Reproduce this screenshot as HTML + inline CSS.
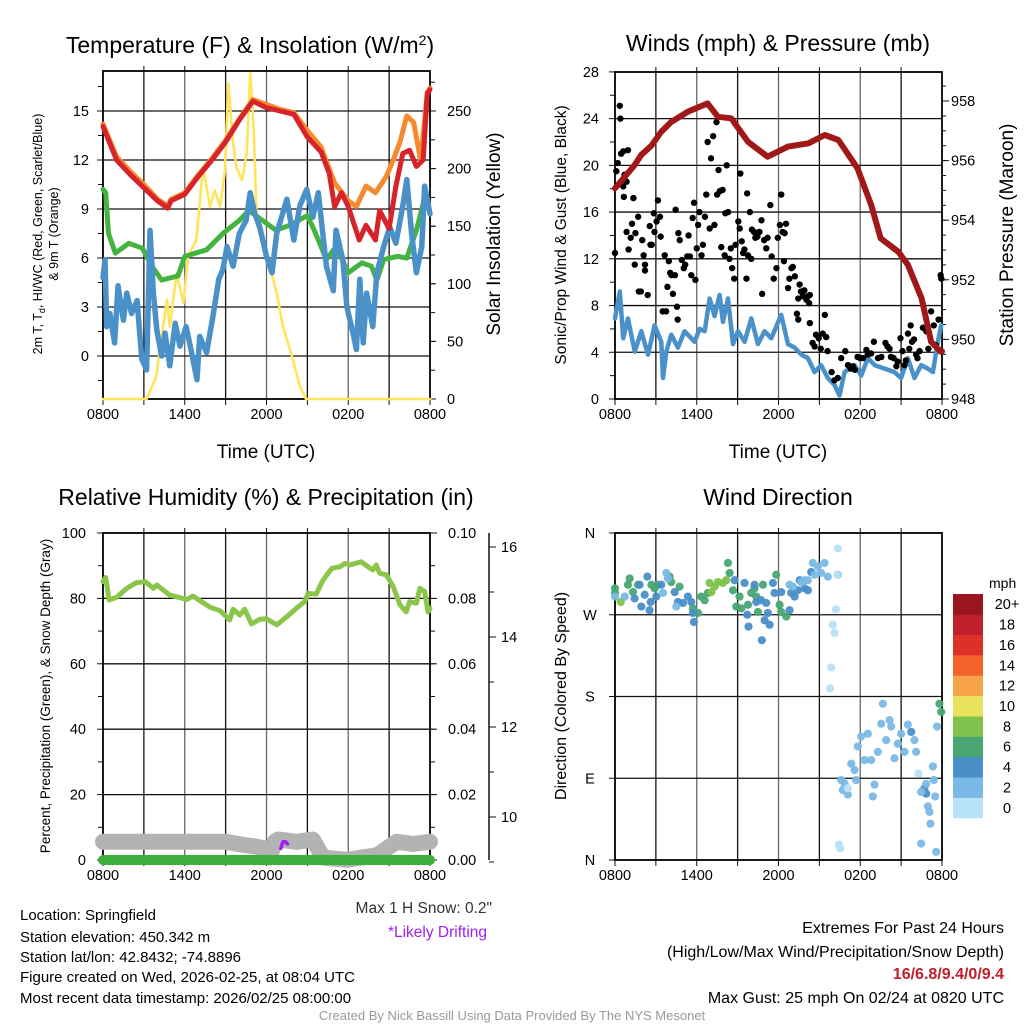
<!DOCTYPE html>
<html><head><meta charset="utf-8">
<style>
html,body{margin:0;padding:0;background:#fff;}
svg{display:block;font-family:"Liberation Sans",Arial,sans-serif;}
</style></head>
<body>
<svg id="fig" width="1024" height="1024" viewBox="0 0 1024 1024" xmlns="http://www.w3.org/2000/svg">
<rect width="1024" height="1024" fill="#fff"/>
<text x="250" y="53" font-size="23" text-anchor="middle">Temperature (F) &amp; Insolation (W/m<tspan dy="-8" font-size="14">2</tspan><tspan dy="8">)</tspan></text>
<text x="778" y="51" font-size="23" text-anchor="middle">Winds (mph) &amp; Pressure (mb)</text>
<text x="266" y="505" font-size="23" text-anchor="middle">Relative Humidity (%) &amp; Precipitation (in)</text>
<text x="778" y="505" font-size="23" text-anchor="middle">Wind Direction</text>

<text transform="translate(42,234) rotate(-90)" font-size="12.5" text-anchor="middle">2m T, T<tspan font-size="9" dy="3">d</tspan><tspan dy="-3">, HI/WC (Red, Green, Scarlet/Blue)</tspan></text>
<text transform="translate(58,234) rotate(-90)" font-size="12.5" text-anchor="middle">&amp; 9m T (Orange)</text>
<text transform="translate(500,234) rotate(-90)" font-size="19" text-anchor="middle">Solar Insolation (Yellow)</text>
<text x="266" y="458" font-size="19" text-anchor="middle">Time (UTC)</text>
<text transform="translate(566,235) rotate(-90)" font-size="15.5" text-anchor="middle">Sonic/Prop Wind &amp; Gust (Blue, Black)</text>
<text transform="translate(1013,235) rotate(-90)" font-size="19" text-anchor="middle">Station Pressure (Maroon)</text>
<text x="778" y="458" font-size="19" text-anchor="middle">Time (UTC)</text>
<text transform="translate(50,696) rotate(-90)" font-size="13.5" text-anchor="middle">Percent, Precipitation (Green), &amp; Snow Depth (Gray)</text>
<text transform="translate(566,696) rotate(-90)" font-size="16" text-anchor="middle">Direction (Colored By Speed)</text>

<g font-size="15">
<text x="20" y="920">Location: Springfield</text>
<text x="20" y="942">Station elevation: 450.342 m</text>
<text x="20" y="962">Station lat/lon: 42.8432; -74.8896</text>
<text x="20" y="982">Figure created on Wed, 2026-02-25, at 08:04 UTC</text>
<text x="20" y="1003">Most recent data timestamp: 2026/02/25 08:00:00</text>
</g>
<text x="492" y="913" font-size="15.5" fill="#333" text-anchor="end">Max 1 H Snow: 0.2"</text>
<text x="487" y="937" font-size="15.5" fill="#a020f0" text-anchor="end">*Likely Drifting</text>
<g font-size="16" text-anchor="end">
<text x="1004" y="933">Extremes For Past 24 Hours</text>
<text x="1004" y="957">(High/Low/Max Wind/Precipitation/Snow Depth)</text>
<text x="1004" y="979" font-weight="bold" fill="#c0202a">16/6.8/9.4/0/9.4</text>
<text x="1004" y="1003">Max Gust: 25 mph On 02/24 at 0820 UTC</text>
</g>
<text x="512" y="1020" font-size="13" fill="#999" text-anchor="middle">Created By Nick Bassill Using Data Provided By The NYS Mesonet</text>
</svg>
<script>
// ---------- Panel 1 data ----------
var redT=[0,1,2,3,4,4.75,5,6,7,8,9,10,11,12,13,14,15,16,16.6,17,17.5,18,18.8,19.3,20,20.3,21,21.5,22,22.5,23,23.5,23.8,24];
var redV=[14.05,12.0,11.1,10.3,9.5,9.05,9.5,9.9,11.0,12.0,13.1,14.45,15.6,15.2,15.0,14.8,13.4,12.5,11.2,9.15,10.0,9.15,7.1,8.0,7.1,8.9,7.8,10.4,12.4,12.6,11.6,12.0,16.1,16.3];
var orangeT=[0,1,2,3,4,4.75,5,6,7,8,9,10,11,12,13,14,15,16,17,18,18.6,19.3,20,20.8,21.3,21.8,22.3,22.8,23.3,23.8,24];
var orangeV=[14.2,12.2,11.3,10.5,9.6,9.2,9.6,10.0,11.1,12.1,13.2,14.5,15.7,15.4,15.1,14.9,13.8,12.8,10.6,9.5,9.15,10.4,10.0,11.0,12.0,13.1,14.7,14.3,12.0,16.1,16.4];
var greenT=[0,0.2,0.4,0.9,1.9,2.9,3.5,4.3,5.5,6.0,7.6,8.8,10.0,10.7,11.7,12.7,13.7,15.0,15.5,16.4,17.1,18.0,19.0,19.7,20.1,20.6,21.6,22.3,23.0,23.7];
var greenV=[10.2,10.0,7.5,6.3,6.9,6.6,5.6,4.65,4.9,6.1,6.5,7.5,8.3,8.9,8.3,7.7,8.0,8.6,7.7,5.9,6.7,5.1,5.7,5.5,4.65,5.9,6.1,6.0,7.7,10.0];
var blueT=[0,0.15,0.27,0.5,0.85,1.1,1.5,1.75,2.1,2.5,2.85,3.2,3.45,3.7,3.95,4.3,4.55,4.9,5.3,5.65,6.1,6.5,6.9,7.1,7.6,8.1,8.5,8.8,9.1,9.55,10.0,10.5,10.8,11.15,11.5,12.0,12.4,12.75,13.5,14.0,14.45,14.95,15.4,15.8,16.4,16.9,17.1,17.6,17.9,18.4,18.6,18.85,19.1,19.35,19.8,20.1,20.6,21.05,21.5,22.0,22.3,22.65,23.0,23.4,23.6,24];
var blueV=[4.8,5.9,1.8,2.6,0.8,4.3,2.2,3.85,2.6,3.4,-0.2,-0.85,7.7,3.85,1.6,0.0,1.4,-0.6,2.0,0.6,1.8,0.2,-1.45,1.2,0.2,2.6,4.7,5.3,6.7,5.5,7.5,8.3,10.0,8.7,7.9,6.1,5.1,7.5,9.6,7.1,9.2,10.2,8.5,10.0,5.5,4.0,7.7,5.9,3.0,1.2,0.4,4.7,0.8,3.85,1.8,5.1,6.7,7.9,6.9,9.2,10.8,7.5,5.1,6.7,10.4,8.7];
var solarT=[0,3.2,3.9,4.3,4.7,4.9,5.4,5.9,6.25,6.85,7.35,7.85,8.2,8.6,8.95,9.2,9.55,9.8,10.2,10.55,10.8,11.05,11.3,11.8,12.25,12.75,13.2,13.8,14.45,14.9,24];
var solarV=[0,0,19,54,86,63,109,83,124,138,201,167,181,167,198,274,222,201,190,213,283,236,150,138,115,92,63,40,11,0,0];
var p1LeftTicks=[0,3,6,9,12,15];
var p1RightTicks=[0,50,100,150,200,250];
// ---------- Panel 2 data ----------
var pressT=[0,1.44,1.93,2.67,3.4,4.13,5.35,6.8,7.55,8.53,9.76,11.2,12.7,14.2,15.4,16.4,17.8,18.8,19.5,20.8,21.5,22.5,23.2,23.9,24];
var pressV=[955.07,955.85,956.19,956.5,956.97,957.3,957.64,957.92,957.47,957.42,956.63,956.13,956.47,956.58,956.86,956.69,955.74,954.51,953.39,952.94,952.5,951.38,949.92,949.59,949.6];
var windT=[0,0.35,0.6,0.95,1.45,1.93,2.42,2.91,3.4,3.52,3.77,4.13,4.62,5.11,5.84,6.21,6.58,6.94,7.31,7.68,7.92,8.29,8.66,9.02,9.51,10.0,10.49,10.98,11.47,12.2,12.7,13.18,13.67,14.16,14.65,15.13,15.62,16.11,16.48,16.85,17.58,18.07,18.56,19.05,19.78,20.51,21.0,21.49,21.98,22.47,22.96,23.33,23.69,23.94];
var windV=[6.9,9.2,5.2,6.9,4.05,5.8,3.8,6.3,4.9,1.8,4.1,5.5,4.4,5.8,4.9,6.0,5.8,8.6,7.1,8.9,6.6,8.6,4.7,5.8,4.9,6.9,4.7,5.8,5.2,7.2,4.7,4.4,3.8,3.5,2.3,2.9,1.8,1.2,0.3,2.3,2.9,2.0,3.5,2.9,2.6,2.3,1.8,3.5,1.8,2.9,2.6,2.3,4.9,6.3];
var gustT=[0.1,0.2,0.35,0.4,0.45,0.6,0.7,0.85,0.95,0.6,0.65,0.0,0.85,1.0,1.15,1.25,1.35,1.5,1.45,1.7,1.75,1.9,2.0,2.1,2.2,2.2,2.4,2.55,2.6,2.7,2.85,2.9,3.05,3.15,3.3,3.35,3.5,3.65,3.75,3.85,3.95,4.05,4.15,4.25,4.4,4.45,4.55,4.6,4.65,4.75,4.9,5.05,5.15,5.3,5.4,5.5,5.6,5.7,5.8,5.9,6.0,6.1,6.2,6.35,6.45,6.6,6.7,6.8,6.95,7.05,7.2,7.3,7.45,7.5,7.6,7.7,7.8,7.9,8.05,8.1,8.2,8.3,8.4,8.5,8.6,8.75,8.85,9.05,9.15,9.2,9.3,9.4,9.5,9.65,9.7,9.75,9.9,10.0,10.05,10.2,10.3,10.45,10.6,10.75,10.8,10.95,11.1,11.2,11.4,11.5,11.65,11.85,11.95,12.1,12.2,12.3,12.45,12.55,12.4,12.7,12.8,12.95,13.05,13.2,13.35,13.45,13.55,13.65,13.8,13.9,14.05,14.15,14.25,14.3,13.45,14.3,14.5,14.65,14.75,14.95,15.1,15.25,15.4,15.5,15.6,15.9,16.1,16.35,16.6,16.9,17.1,17.3,17.45,17.6,17.8,18.0,18.2,18.45,18.55,18.8,19.0,19.3,19.55,19.85,20.0,20.15,20.25,20.45,20.65,20.75,20.95,21.1,21.25,21.35,21.5,21.6,21.7,21.8,21.95,22.1,22.2,22.35,22.6,22.85,23.0,23.2,23.4,23.55,23.75,23.9,23.95];
var gustV=[19.5,20.2,25.1,24.0,21.0,21.2,19.2,18.6,21.3,18.2,17.3,12.5,14.3,12.8,13.8,15.0,17.2,14.2,11.5,15.6,9.2,9.2,13.6,12.3,11.5,11.0,8.9,14.8,13.2,13.2,15.9,14.3,15.2,17.0,15.6,13.9,7.5,12.3,7.5,9.6,11.8,10.8,10.6,9.0,10.6,16.2,7.9,6.8,14.2,13.6,11.9,11.2,11.5,12.2,14.0,12.2,10.6,15.5,16.8,10.2,12.9,14.9,16.0,12.3,13.2,15.6,17.5,22.0,14.6,20.6,22.5,14.9,23.7,17.5,19.6,17.8,13.0,17.9,12.3,15.9,20.0,16.0,12.0,12.9,11.2,10.3,13.2,15.2,14.6,19.3,13.5,12.5,12.8,10.3,17.6,12.3,16.0,12.0,14.5,14.3,13.8,13.9,14.3,15.3,9.0,13.6,12.9,13.8,16.6,12.2,10.3,11.2,13.8,14.9,17.5,14.3,14.2,15.0,11.8,9.5,10.3,11.2,11.3,10.5,7.3,8.6,9.8,9.2,8.8,9.3,8.5,8.8,8.2,8.9,6.8,6.5,4.8,4.5,5.5,5.2,4.3,5.6,7.2,5.3,4.1,2.3,1.6,1.8,3.5,4.1,2.9,2.6,2.8,2.5,3.6,3.5,3.5,4.2,3.8,3.9,4.9,3.5,3.6,4.8,4.5,4.3,3.6,3.5,2.8,3.2,5.2,4.1,2.9,3.3,5.6,4.3,6.3,4.9,5.1,3.8,3.5,4.1,6.1,5.8,4.3,7.5,6.3,4.6,6.8,10.6,10.3];
var p2LeftTicks=[0,4,8,12,16,20,24,28];
var p2RightTicks=[948,950,952,954,956,958];
// ---------- Panel 3 data ----------
var rhT=[0,0.2,0.45,1.0,1.75,2.45,3.1,3.7,3.95,4.9,6.15,6.6,7.85,8.6,9.3,9.55,10.05,10.4,10.9,11.5,12.0,12.75,13.5,14.2,14.8,15.05,15.65,16.15,16.8,17.4,17.75,18.1,18.95,19.45,19.8,20.05,20.3,20.8,21.3,21.8,22.25,22.5,23.0,23.25,23.6,23.85,24];
var rhV=[85.1,86.4,79.5,80.3,83.1,84.8,85.1,83.1,84.1,81.0,79.7,80.7,77.3,76.2,73.4,76.7,74.9,76.7,72.2,73.6,73.8,71.9,74.4,77.0,79.0,81.5,81.3,85.6,89.2,89.7,90.7,90.2,91.2,89.7,88.7,90.2,87.7,87.2,83.6,78.0,75.9,79.0,78.5,83.1,82.1,75.9,77.0];
var snowT=[0,5,9,10.3,11.3,11.9,12.25,12.6,12.85,14.2,15.4,16.15,17.9,20.1,21.55,22.75,24];
var snowV=[9.45,9.45,9.45,9.38,9.34,9.3,9.1,9.45,9.5,9.45,9.5,9.1,9.05,9.15,9.45,9.4,9.45];
var driftT=[13.05,13.2,13.4,13.55];
var driftV=[9.3,9.45,9.45,9.4];
var precipT=[0,24];
var precipV=[0,0];
var p3LeftTicks=[0,20,40,60,80,100];
var p3RightTicks=[0,0.02,0.04,0.06,0.08,0.10];
var p3SnowTicks=[10,12,14,16];
// ---------- Panel 4 data ----------
var dirT=[0,0,1.08,0.95,1.32,1.69,2.67,2.91,3.15,4.01,4.13,4.74,5.72,6.09,6.33,6.58,6.82,8.29,8.41,8.66,8.9,9.14,9.27,9.76,10.0,10.24,10.37,10.49,10.86,11.83,12.08,12.2,12.57,23.81,23.94,
0.42,6.94,7.31,7.55,7.92,8.17,7.07,
1.44,1.81,1.93,2.18,2.37,2.54,2.62,3.03,3.4,4.38,4.62,4.99,5.35,5.6,5.79,5.72,8.78,9.51,9.71,9.8,10.24,10.37,10.73,10.78,10.98,11.22,11.35,11.1,11.59,11.71,12.2,12.81,12.93,13.18,13.42,13.55,13.91,14.16,14.4,21.74,22.71,22.84,
0,0.71,3.52,3.77,3.89,4.5,13.91,14.52,14.89,15.38,15.62,14.65,15.13,16.36,12.81,13.67,14.16,13.06,16.6,16.72,17.09,17.34,17.7,17.82,18.07,18.31,18.56,18.8,19.05,18.92,19.29,19.54,19.66,19.9,20.15,20.27,20.51,20.76,21.0,21.25,21.49,21.98,22.1,22.47,22.84,22.96,23.08,23.15,23.33,23.4,23.5,23.64,23.57,22.47,16.85,17.58,
16.36,16.31,16.21,15.99,16.11,15.87,15.79,16.43,16.53,22.27,17.09];
var dirV=[299,294,310,303,295,303,303,299,303,312,306,301,277,272,290,286,294,327,316,297,279,290,277,281,294,299,290,273,303,314,281,273,268,172,163,
284,305,301,306,305,308,295,
288,303,279,292,312,275,284,290,303,295,284,283,290,284,262,272,308,305,270,257,303,284,286,242,264,272,259,283,305,294,295,275,294,290,297,308,299,297,317,141,79,73,
290,290,294,316,310,279,308,327,323,327,312,314,316,314,303,306,308,301,88,77,72,106,88,125,136,110,139,110,83,70,119,150,172,132,154,147,112,128,139,119,149,132,119,75,84,59,53,40,103,88,70,147,9,18,84,99,
343,314,276,259,250,212,189,17,13,95,79];
var dirSpeed=[7,7,7,7,7,7,7,7,7,7,7,7,7,7,7,7,7,7,7,7,7,7,7,7,7,7,7,7,7,7,7,7,7,7,7,
9,9,9,9,9,9,9,
5,5,5,5,5,5,5,5,5,5,5,5,5,5,5,5,5,5,5,5,5,5,5,5,5,5,5,5,5,5,5,5,5,5,5,5,5,5,5,5,5,5,
3,3,3,3,3,3,3,3,3,3,3,3,3,3,3,3,3,3,3,3,3,3,3,3,3,3,3,3,3,3,3,3,3,3,3,3,3,3,3,3,3,3,3,3,3,3,3,3,3,3,3,3,3,3,3,3,
1,1,1,1,1,1,1,1,1,1,1];
var dirTickLabels=["N","E","S","W","N"];
var dirTickValues=[0,90,180,270,360];
var speedBinLabels=["0","2","4","6","8","10","12","14","16","18","20+"];
var speedBinColors=["#b7e2f7","#7ab9e5","#4a8fc7","#49a673","#80c24c","#e8e35a","#f8a448","#f2622b","#dd3128","#c0202a","#9b161c"];
var timeTickLabels=["0800","1400","2000","0200","0800"];

// ---------- helpers ----------
var SVGNS="http://www.w3.org/2000/svg";
var fig=document.getElementById("fig");
function el(tag,attrs,parent){var e=document.createElementNS(SVGNS,tag);for(var k in attrs){e.setAttribute(k,attrs[k]);}(parent||fig).appendChild(e);return e;}
function lin(d0,d1,r0,r1){return function(v){return r0+(v-d0)*(r1-r0)/(d1-d0);};}
function pts(ts,vs,sx,sy){var a=[];for(var i=0;i<ts.length;i++){a.push(sx(ts[i]).toFixed(1)+","+sy(vs[i]).toFixed(1));}return a.join(" ");}

function frame(P,name){
  var g=el("g",{});
  
  
  for(var h=3;h<24;h+=3){
    var x=P.sx(h);
    var gl=el("line",{x1:x,x2:x,y1:P.y0,y2:P.y1,stroke:(h%6==0?"#666":"#111"),"stroke-width":1.3},g);
    
    
    var tt=el("line",{x1:x,x2:x,y1:P.y0,y2:P.y0-5,stroke:"#111","stroke-width":1},g);
    
    
  }
  for(var h2=0;h2<=24;h2+=3){
    var xb=P.sx(h2);
    var bt=el("line",{x1:xb,x2:xb,y1:P.y1,y2:P.y1+6,stroke:"#111","stroke-width":1},g);
    
    
  }
  for(var i=0;i<timeTickLabels.length;i++){
    var tl=el("text",{x:P.sx(i*6),y:P.y1+20,"font-size":14.5,"text-anchor":"middle"},g);
    tl.textContent=timeTickLabels[i];
    
    
  }
  return g;
}
function hgrid(P,g,ys,col){
  for(var i=0;i<ys.length;i++){
    var hl=el("line",{x1:P.x0,x2:P.x1,y1:ys[i],y2:ys[i],stroke:col||"#111","stroke-width":1.3},g);
    
    
  }
}
function border(P,g){
  var r=el("rect",{x:P.x0,y:P.y0,width:P.x1-P.x0,height:P.y1-P.y0,fill:"none",stroke:"#000","stroke-width":1.8},g);
  
  
}
function ticks(g,x,vals,sy,side,fmt,len,lblx){
  for(var i=0;i<vals.length;i++){
    var y=sy(vals[i]);
    var t=el("line",{x1:x,x2:x+side*len,y1:y,y2:y,stroke:"#111","stroke-width":1},g);
    
    
    if(fmt){
      var tx=el("text",{x:lblx,y:y+5,"font-size":14.5,"text-anchor":side<0?"end":"start"},g);
      tx.textContent=fmt(vals[i]);
      
      
    }
  }
}
function line(ts,vs,sx,sy,color,w,name,cap){
  var p=el("polyline",{points:pts(ts,vs,sx,sy),fill:"none",stroke:color,"stroke-width":w,"stroke-linejoin":"round","stroke-linecap":cap||"round"});
  
  
  return p;
}
function range(a,b,s){var r=[];for(var v=a;v<=b+1e-9;v+=s)r.push(+v.toFixed(4));return r;}

// ---------- Panel 1 ----------
var P1={x0:103,x1:430,y0:71,y1:399};
P1.sx=lin(0,24,P1.x0,P1.x1);
var y1L=lin(0,15,356,111);
var y1R=lin(0,250,399,111);
var g1=frame(P1,"temperature");
hgrid(P1,g1,p1LeftTicks.map(y1L));
ticks(g1,P1.x0,range(-1.5,16.5,1.5),y1L,-1,null,5);
ticks(g1,P1.x0,p1LeftTicks,y1L,-1,function(v){return v;},6,89);
ticks(g1,P1.x1,range(0,275,25),y1R,1,null,5);
ticks(g1,P1.x1,p1RightTicks,y1R,1,function(v){return v;},6,447);
line(solarT,solarV,P1.sx,y1R,"#ffe45c",2.6,"solar-insolation-line");
line(greenT,greenV,P1.sx,y1L,"#45b33f",5,"dewpoint-line");
line(blueT,blueV,P1.sx,y1L,"#4b91c9",5.5,"wind-chill-line");
line(orangeT,orangeV,P1.sx,y1L,"#f58a2e",5,"temp-9m-line");
line(redT,redV,P1.sx,y1L,"#d7232a",5,"temp-2m-line");
border(P1,g1);

// ---------- Panel 2 ----------
var P2={x0:615,x1:942,y0:72,y1:399};
P2.sx=lin(0,24,P2.x0,P2.x1);
var y2L=lin(0,28,399,71.9);
var y2R=lin(948,958,399,101);
var g2=frame(P2,"winds");
hgrid(P2,g2,p2LeftTicks.slice(1,7).map(y2L));
ticks(g2,P2.x0,range(2,26,4),y2L,-1,null,5);
ticks(g2,P2.x0,p2LeftTicks,y2L,-1,function(v){return v;},6,599);
ticks(g2,P2.x1,range(948,958.5,0.5),y2R,1,null,4);
ticks(g2,P2.x1,p2RightTicks,y2R,1,function(v){return v;},7,951);
line(windT,windV,P2.sx,y2L,"#4b91c9",4.5,"sonic-wind-line");
var gg=el("g",{});


for(var i=0;i<gustT.length;i++){
  var c=el("circle",{cx:P2.sx(gustT[i]),cy:y2L(gustV[i]),r:3.2,fill:"#000"},gg);
  
  
}
line(pressT,pressV,P2.sx,y2R,"#a01818",6,"pressure-line");
border(P2,g2);

// ---------- Panel 3 ----------
var P3={x0:103,x1:430,y0:533,y1:860};
P3.sx=lin(0,24,P3.x0,P3.x1);
var y3L=lin(0,100,860,533);
var y3R=lin(0,0.1,860,533);
var y3S=lin(10,16,817,547);
var g3=frame(P3,"humidity");
hgrid(P3,g3,p3LeftTicks.slice(1,5).map(y3L));
ticks(g3,P3.x0,range(10,90,20),y3L,-1,null,5);
ticks(g3,P3.x0,p3LeftTicks,y3L,-1,function(v){return v;},6,86);
ticks(g3,P3.x1,range(0.01,0.09,0.01),y3R,1,null,5);
ticks(g3,P3.x1,p3RightTicks,y3R,1,function(v){return v.toFixed(2);},7,448);
var sa=el("line",{x1:489,x2:489,y1:533,y2:860,stroke:"#111","stroke-width":1.5},g3);


ticks(g3,489,[9,11,13,15],y3S,1,null,5);
ticks(g3,489,p3SnowTicks,y3S,1,function(v){return v;},7,501);
line(snowT,snowV,P3.sx,y3S,"#b3b3b3",16,"snow-depth-line");
line(driftT,driftV,P3.sx,y3S,"#a020f0",3.5,"drifting-snow-line");
line(precipT,precipV,P3.sx,y3R,"#3fae3f",10,"precipitation-line");
line(rhT,rhV,P3.sx,y3L,"#8bc64a",5,"relative-humidity-line");
border(P3,g3);

// ---------- Panel 4 ----------
var P4={x0:615,x1:942,y0:533,y1:860};
P4.sx=lin(0,24,P4.x0,P4.x1);
var y4=lin(0,360,860,533);
var g4=frame(P4,"wind-direction");
hgrid(P4,g4,[90,180,270].map(y4));
ticks(g4,P4.x0,dirTickValues,y4,-1,null,6);
for(var j=0;j<dirTickLabels.length;j++){
  var dl=el("text",{x:590,y:y4(dirTickValues[j])+5,"font-size":14.5,"text-anchor":"middle"},g4);
  dl.textContent=dirTickLabels[j];
  
  
}
var dg=el("g",{});


for(var k=0;k<dirT.length;k++){
  var bin=Math.min(10,Math.floor(dirSpeed[k]/2));
  var dc=el("circle",{cx:P4.sx(dirT[k]),cy:y4(dirV[k]),r:4.1,fill:speedBinColors[bin],"fill-opacity":0.95},dg);
  
  
}
border(P4,g4);
var cb=el("g",{});


var mph=el("text",{x:989,y:588,"font-size":14},cb);
mph.textContent="mph";


var bh=224/speedBinColors.length;
for(var b=0;b<speedBinColors.length;b++){
  var yb=594+(speedBinColors.length-1-b)*bh;
  var bx=el("rect",{x:953,y:yb,width:30,height:bh+0.3,fill:speedBinColors[b]},cb);
  
  
  var bl=el("text",{x:1007,y:yb+bh/2+5,"font-size":14.5,"text-anchor":"middle"},cb);
  bl.textContent=speedBinLabels[b];
  
  
}
</script>
</body></html>
